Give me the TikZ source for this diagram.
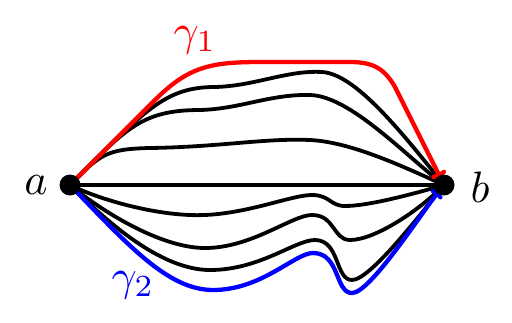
\documentclass[tikz,border=0pt]{standalone}
\usetikzlibrary{arrows.meta}
\begin{document}
\begin{tikzpicture}[x=1pt,y=-1pt,
  crv/.style={line width=3.8pt, line cap=round, line join=round},
  dot/.style={circle, fill=black, inner sep=0pt, minimum size=21pt},
  lab/.style={scale=4.4, inner sep=0pt}]
\useasboundingbox (0,0) rectangle (512,322);
\coordinate (a) at (70,185);
\coordinate (b) at (444,185);
% upper curves
\draw[crv] (a) .. controls (145,110) and (165,87) .. (215,87) .. controls (255,86) and (287,70) .. (322,72) .. controls (355,74) and (400,130) .. (b);
\draw[crv] (a) .. controls (125,130) and (140,110) .. (200,110) .. controls (240,109) and (270,94) .. (310,95) .. controls (350,96) and (405,155) .. (b);
\draw[crv] (a) .. controls (100,155) and (105,149) .. (150,148) .. controls (220,147) and (265,138) .. (310,140) .. controls (350,142) and (400,165) .. (b);
\draw[crv] (a) -- (b);
% lower curves
\draw[crv] (a) .. controls (100,200) and (160,217) .. (205,215) .. controls (250,213) and (292,195) .. (312,195) .. controls (330,195) and (330,206) .. (345,206) .. controls (370,206) and (420,192) .. (b);
\draw[crv] (a) .. controls (100,210) and (160,248) .. (205,248) .. controls (252,248) and (292,215) .. (312,215) .. controls (335,215) and (333,240) .. (350,240) .. controls (375,240) and (420,210) .. (b);
\draw[crv] (a) .. controls (105,220) and (160,270) .. (210,270) .. controls (260,270) and (295,240) .. (315,240) .. controls (340,240) and (335,280) .. (352,280) .. controls (370,280) and (420,215) .. (b);
% gamma 2 (blue)
\draw[crv, blue, line width=4.3pt, -{To[length=6pt,width=14pt]}, shorten >=8pt] (a) .. controls (128,245) and (168,290) .. (213,290) .. controls (262,290) and (295,253) .. (313,253) .. controls (340,253) and (335,293) .. (352,293) .. controls (370,293) and (420,215) .. (b);
% gamma 1 (red)
\draw[crv, red, line width=4.3pt, -{To[length=6pt,width=16pt]}, shorten >=8pt] (a) -- (155,100) .. controls (188,67) and (210,62) .. (260,62) -- (350,62) .. controls (375,62) and (385,70) .. (395,87) -- (b);
\node[dot] (na) at (a) {};
\node[dot] (nb) at (b) {};
\node[lab] (la) at (36,185) {$a$};
\node[lab] (lb) at (480,187) {$b$};
\node[lab, red] (g1) at (195,40) {$\gamma_1$};
\node[lab, blue] (g2) at (133,285) {$\gamma_2$};
\end{tikzpicture}
\end{document}
